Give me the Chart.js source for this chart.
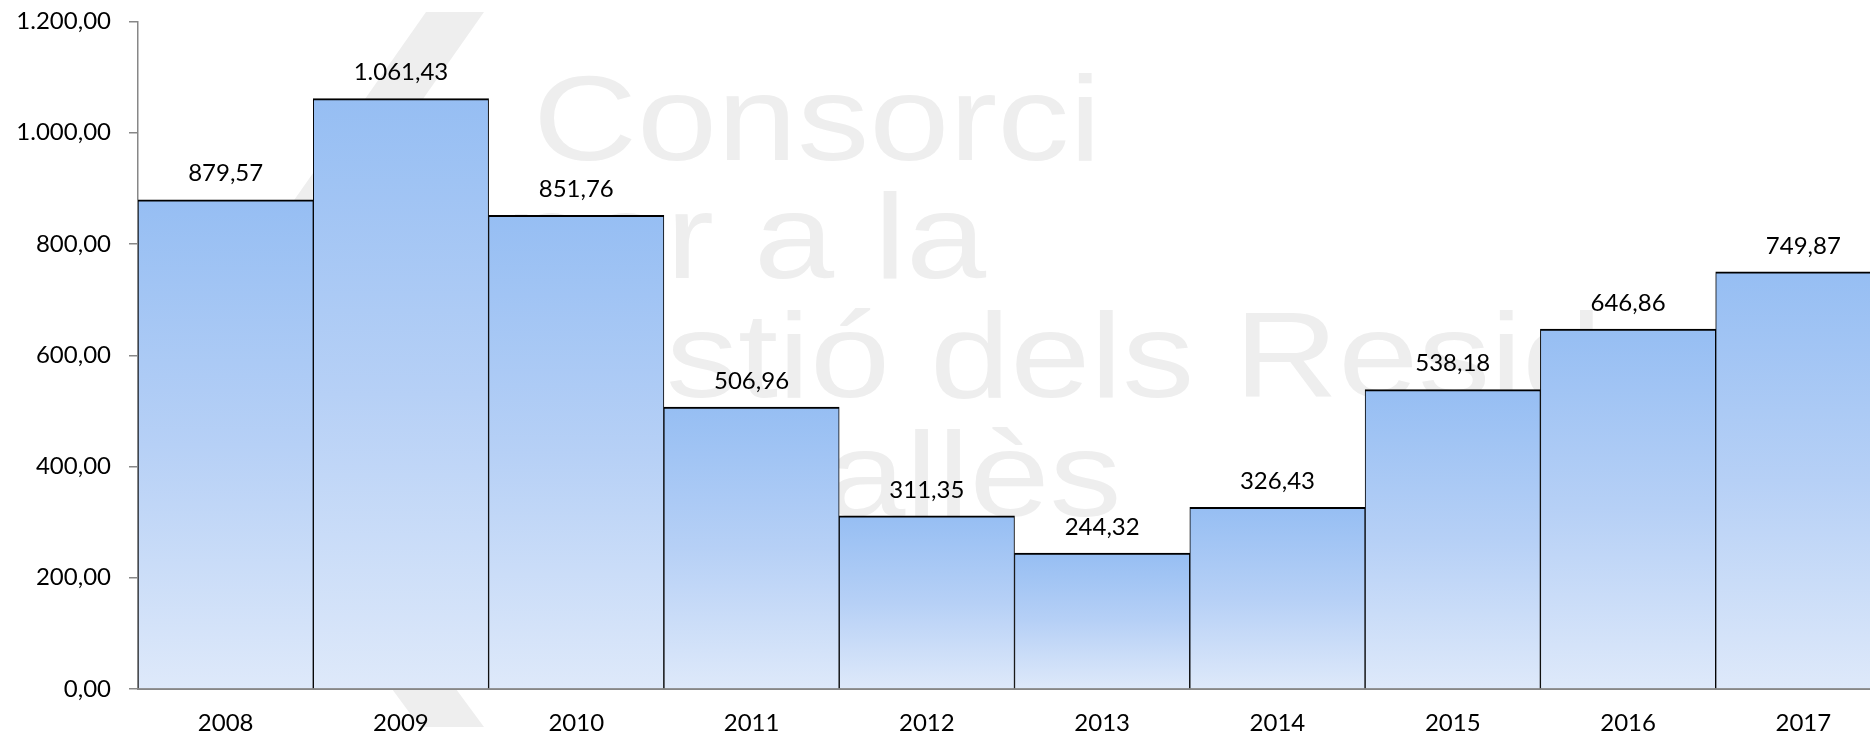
<!DOCTYPE html>
<html>
<head>
<meta charset="utf-8">
<script src="https://cdn.jsdelivr.net/npm/chart.js@4.4.1/dist/chart.umd.min.js"></script>
<style>
    html, body { margin: 0; padding: 0; background: #ffffff; overflow: hidden; }
    #wrap { position: relative; width: 1900px; height: 735px; }
</style>
</head>
<body>
<div id="wrap"><canvas id="mainChart"></canvas></div>
<script>
// Data
const years = ['2008', '2009', '2010', '2011', '2012', '2013', '2014', '2015', '2016', '2017'];
const values = [879.57, 1061.43, 851.76, 506.96, 311.35, 244.32, 326.43, 538.18, 646.86, 749.87];
const yMin = 0;
const yMax = 1200;
const yStep = 200;

// Watermark lines (background logo text)
const markLines = ['Consorci', 'per a la', 'Gestió dels Residus', 'Vallès'];

const FONT = 'Lato';
const FONT_SIZE = 24;

// 1061.43 -> "1.061,43"
function fmtNum(v) {
    const parts = v.toFixed(2).split('.');
    return parts[0].replace(/\B(?=(\d{3})+(?!\d))/g, '.') + ',' + parts[1];
}

// Light grey logo + text behind the bars
const watermarkPlugin = {
    id: 'watermark',
    beforeDraw(chart) {
        const ctx = chart.ctx;
        ctx.save();
        ctx.fillStyle = '#eeeeee';

        // slanted stripes of the logo
        ctx.beginPath();
        ctx.moveTo(426, 12);
        ctx.lineTo(484, 12);
        ctx.lineTo(282, 300);
        ctx.lineTo(224, 300);
        ctx.closePath();
        ctx.fill();

        ctx.beginPath();
        ctx.moveTo(392, 689);
        ctx.lineTo(456, 689);
        ctx.lineTo(484, 727);
        ctx.lineTo(420, 727);
        ctx.closePath();
        ctx.fill();

        // text lines, anchored where their visible part begins
        const sx = 1.2;
        const anchors = [
            { skip: '', x: 533, y: 160 },
            { skip: 'pe', x: 666, y: 278 },
            { skip: 'Ge', x: 666, y: 397 },
            { skip: 'V', x: 836, y: 516 }
        ];
        ctx.font = '120px "Liberation Sans"';
        ctx.textAlign = 'left';
        ctx.textBaseline = 'alphabetic';
        markLines.forEach((txt, i) => {
            const a = anchors[i];
            const skipW = a.skip ? ctx.measureText(a.skip).width * sx : 0;
            ctx.save();
            ctx.translate(a.x - skipW, a.y);
            ctx.scale(sx, 1);
            ctx.fillText(txt, 0, 0);
            ctx.restore();
        });
        ctx.restore();
    }
};

// Value labels above every bar
const valueLabelPlugin = {
    id: 'valueLabels',
    afterDatasetsDraw(chart) {
        const ctx = chart.ctx;
        const meta = chart.getDatasetMeta(0);
        ctx.save();
        ctx.font = FONT_SIZE + 'px ' + FONT;
        ctx.fillStyle = '#000000';
        ctx.textAlign = 'center';
        ctx.textBaseline = 'middle';
        meta.data.forEach((bar, i) => {
            ctx.fillText(fmtNum(values[i]), bar.x, bar.y - 26);
        });
        ctx.restore();
    }
};

const ctx = document.getElementById('mainChart').getContext('2d');

new Chart(ctx, {
    type: 'bar',
    data: {
        labels: years,
        datasets: [{
            data: values,
            backgroundColor: (c) => {
                const chart = c.chart;
                if (!chart.chartArea || c.raw === undefined) return '#a9c9f5';
                const yScale = chart.scales.y;
                const top = yScale.getPixelForValue(c.raw);
                const bottom = yScale.getPixelForValue(0);
                const g = chart.ctx.createLinearGradient(0, top, 0, bottom);
                g.addColorStop(0, '#96bef3');
                g.addColorStop(0.5, '#b6d0f6');
                g.addColorStop(1, '#dee9fa');
                return g;
            },
            borderColor: '#000000',
            borderWidth: { top: 2, left: 1, right: 1, bottom: 0 },
            borderSkipped: 'bottom',
            categoryPercentage: 1.0,
            barPercentage: 1.0
        }]
    },
    options: {
        responsive: true,
        maintainAspectRatio: false,
        animation: false,
        layout: {
            padding: { top: 21.5, right: 9, bottom: 0, left: 0 }
        },
        scales: {
            x: {
                grid: { display: false, drawTicks: false },
                border: { display: true, color: '#878787', width: 2 },
                ticks: {
                    color: '#000000',
                    padding: 20,
                    font: { family: FONT, size: FONT_SIZE }
                },
                afterFit: (scale) => {
                    scale.height = 46;
                    scale.paddingLeft = 0;
                    scale.paddingRight = 0;
                }
            },
            y: {
                min: yMin,
                max: yMax,
                grid: {
                    drawOnChartArea: false,
                    drawTicks: true,
                    tickLength: 9,
                    color: '#878787',
                    lineWidth: 1.5
                },
                border: { display: true, color: '#878787', width: 1.5 },
                ticks: {
                    stepSize: yStep,
                    color: '#000000',
                    padding: 18,
                    font: { family: FONT, size: FONT_SIZE },
                    callback: (v) => fmtNum(v)
                },
                afterFit: (scale) => {
                    scale.width = 138;
                    scale.paddingTop = 0;
                    scale.paddingBottom = 0;
                }
            }
        },
        plugins: {
            legend: { display: false },
            tooltip: { enabled: false }
        }
    },
    plugins: [watermarkPlugin, valueLabelPlugin]
});
</script>
</body>
</html>
